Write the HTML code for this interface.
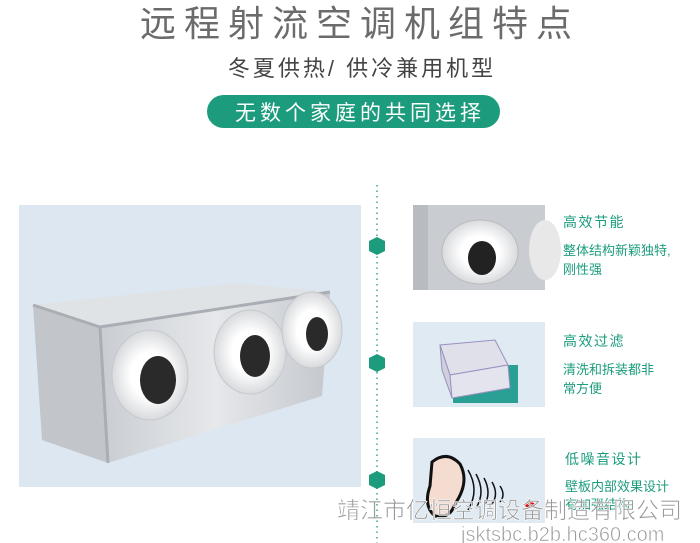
<!DOCTYPE html>
<html><head><meta charset="utf-8"><style>
html,body{margin:0;padding:0;background:#fff}
body{width:700px;height:543px;overflow:hidden;position:relative;font-family:"Liberation Sans","Noto Sans CJK SC",sans-serif}
</style></head><body>
<svg width="700" height="543" viewBox="0 0 700 543" xmlns="http://www.w3.org/2000/svg" style="position:absolute;left:0;top:0">
<defs>
<linearGradient id="front" x1="0" x2="1" y1="0" y2="0"><stop offset="0" stop-color="#c9cdd2"/><stop offset="0.5" stop-color="#e6e8eb"/><stop offset="1" stop-color="#c4c8cd"/></linearGradient>
<radialGradient id="ring"><stop offset="0.5" stop-color="#ffffff"/><stop offset="1" stop-color="#d8dadd"/></radialGradient>
</defs>
<g font-family="Liberation Sans, Noto Sans CJK SC, sans-serif">
<text x="360" y="36" text-anchor="middle" font-size="36" fill="#6b6b6b" letter-spacing="8">远程射流空调机组特点</text>
<text x="362" y="76" text-anchor="middle" font-size="22" fill="#444" letter-spacing="3">冬夏供热/ 供冷兼用机型</text>
<rect x="207" y="95" width="293" height="33" rx="16.5" fill="#1c9c7d"/>
<text x="360" y="120" text-anchor="middle" font-size="21" fill="#fff" letter-spacing="4">无数个家庭的共同选择</text>
</g>
<rect x="19" y="205" width="342" height="282" fill="#dce7f1"/>
<polygon points="33,305 235,283 330,292 100,327" fill="#e0e3e6"/>
<polygon points="33,305 100,327 108,463 42,440" fill="#c2c6cb"/>
<polygon points="100,327 330,292 322,396 108,463" fill="url(#front)"/>
<polyline points="33,305 100,327 330,292" fill="none" stroke="#a9aeb4" stroke-width="3"/>
<line x1="100" y1="327" x2="108" y2="463" stroke="#a9aeb4" stroke-width="3"/>
<ellipse cx="150" cy="375" rx="38" ry="45" fill="url(#ring)" stroke="#c5c8cc"/>
<ellipse cx="158" cy="380" rx="18" ry="24" fill="#2a2a2a"/>
<ellipse cx="250" cy="352" rx="36" ry="42" fill="url(#ring)" stroke="#c5c8cc"/>
<ellipse cx="255" cy="356" rx="15" ry="21" fill="#2a2a2a"/>
<ellipse cx="312" cy="330" rx="30" ry="38" fill="url(#ring)" stroke="#c5c8cc"/>
<ellipse cx="317" cy="334" rx="11" ry="17" fill="#2a2a2a"/>
<line x1="377" y1="185" x2="377" y2="543" stroke="#3aa98b" stroke-width="1.5" stroke-dasharray="1.5 4"/>
<g fill="#1c9c7d">
<polygon points="377,237 385,241 385,251 377,255 369,251 369,241"/>
<polygon points="377,354 385,358 385,368 377,372 369,368 369,358"/>
<polygon points="377,471 385,475 385,485 377,489 369,485 369,475"/>
</g>
<rect x="413" y="205" width="132" height="85" fill="#c9ccd0"/>
<rect x="413" y="205" width="15" height="85" fill="#b8bcc1"/>
<ellipse cx="480" cy="252" rx="38" ry="32" fill="url(#ring)" stroke="#bbb"/>
<ellipse cx="482" cy="258" rx="14" ry="17" fill="#222"/>
<ellipse cx="545" cy="250" rx="16" ry="30" fill="#e8e8e8"/>
<rect x="413" y="322" width="132" height="85" fill="#dfeaf3"/>
<rect x="453" y="365" width="65" height="38" fill="#2a9f94"/>
<polygon points="440,345 495,340 508,365 450,375" fill="#dfe0ea" stroke="#9a90c0"/>
<polygon points="440,345 450,375 452,398 442,370" fill="#cfd0dc" stroke="#9a90c0"/>
<polygon points="450,375 508,365 510,388 452,398" fill="#e4e4ee" stroke="#9a90c0"/>
<rect x="413" y="438" width="132" height="85" fill="#dfeaf3"/>
<path d="M432 462 q15 -12 28 2 q10 18 -5 40 q-5 15 -20 12 q-12 -10 -5 -30 z" fill="#f5dcd0" stroke="#111" stroke-width="3"/>
<g fill="none" stroke="#111" stroke-width="1.5">
<path d="M468 470 q12 20 0 40"/><path d="M476 474 q10 18 0 34"/><path d="M484 478 q8 15 0 28"/><path d="M492 482 q7 12 0 22"/><path d="M500 486 q6 9 0 16"/>
</g>
<ellipse cx="530" cy="505" rx="5" ry="3" fill="#e01010"/>
<g font-family="Liberation Sans, Noto Sans CJK SC, sans-serif" fill="#1c9c7d">
<text x="563" y="227" font-size="14" letter-spacing="1.5">高效节能</text>
<text x="563" y="255" font-size="13">整体结构新颖独特,</text>
<text x="563" y="274" font-size="13">刚性强</text>
<text x="563" y="346" font-size="14" letter-spacing="1.5">高效过滤</text>
<text x="563" y="374" font-size="13">清洗和拆装都非</text>
<text x="563" y="393" font-size="13">常方便</text>
<text x="565" y="464" font-size="14" letter-spacing="1.5">低噪音设计</text>
<text x="565" y="491" font-size="13">壁板内部效果设计</text>
<text x="565" y="509" font-size="13">有加强结构</text>
</g>
<g font-family="Liberation Sans, Noto Sans CJK SC, sans-serif" fill="#9a9a9a" stroke="#fff" stroke-width="0.6">
<text x="337" y="518" font-size="23">靖江市亿恒空调设备制造有限公司</text>
<text x="461" y="541" font-size="20">jsktsbc.b2b.hc360.com</text>
</g>
</svg>
</body></html>
